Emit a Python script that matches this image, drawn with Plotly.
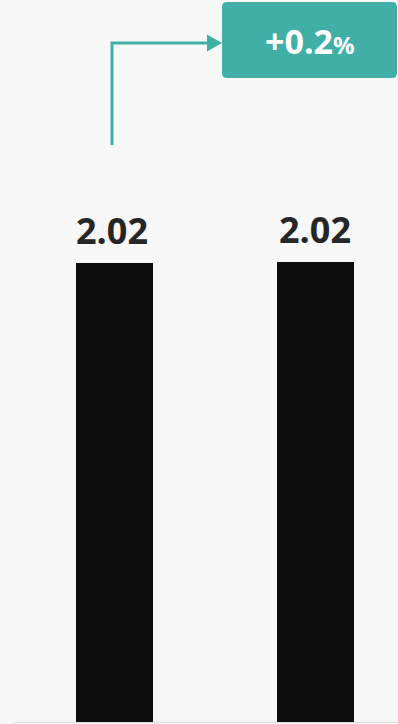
import plotly.graph_objects as go

# Two periods compared, with the relative change called out in a badge
categories = ["A", "B"]
values = [2.020, 2.024]

BG = "#f7f7f7"
BAR = "#0d0d0d"
TEAL = "#41afa6"
LABEL = "#262626"
FONT = "Open Sans, Noto Sans, sans-serif"

W, H = 398, 724
ML, MR, MT, MB = 13, 0, 0, 2
PW, PH = W - ML - MR, H - MT - MB


def px(xp):
    return (xp - ML) / PW


def py(yp):
    return (H - MB - yp) / PH


fig = go.Figure()
fig.add_trace(go.Bar(
    x=[0, 1], y=values, width=0.383,
    marker=dict(color=BAR, line=dict(width=0)),
    hoverinfo="skip",
))

label_nudge = [-3, -1]
for i, v in enumerate(values):
    fig.add_annotation(
        x=i, y=v, xref="x", yref="y", text=f"<b>{v:.2f}</b>",
        showarrow=False, yanchor="bottom", yshift=6, xshift=label_nudge[i],
        font=dict(family=FONT, size=36, color=LABEL),
    )

# connector: up from the first bar, then right into the badge
line_x, line_y0, line_y1, tip_x = 112, 145, 43, 222
fig.add_shape(
    type="path", xref="paper", yref="paper",
    path=f"M {px(line_x)},{py(line_y0)} L {px(line_x)},{py(line_y1)} L {px(209)},{py(line_y1)}",
    line=dict(color=TEAL, width=3),
)
fig.add_shape(
    type="path", xref="paper", yref="paper",
    path=f"M {px(207)},{py(line_y1 - 8.5)} L {px(tip_x)},{py(line_y1)} L {px(207)},{py(line_y1 + 8.5)} Z",
    fillcolor=TEAL, line=dict(color=TEAL, width=0),
)

# rounded badge
x0, x1, y0, y1, r = 222, 397, 2, 78, 5
badge = (
    f"M {px(x0 + r)},{py(y0)} L {px(x1 - r)},{py(y0)} "
    f"Q {px(x1)},{py(y0)} {px(x1)},{py(y0 + r)} "
    f"L {px(x1)},{py(y1 - r)} Q {px(x1)},{py(y1)} {px(x1 - r)},{py(y1)} "
    f"L {px(x0 + r)},{py(y1)} Q {px(x0)},{py(y1)} {px(x0)},{py(y1 - r)} "
    f"L {px(x0)},{py(y0 + r)} Q {px(x0)},{py(y0)} {px(x0 + r)},{py(y0)} Z"
)
fig.add_shape(type="path", xref="paper", yref="paper", path=badge,
              fillcolor=TEAL, line=dict(width=0))

change = (values[1] / values[0] - 1) * 100
fig.add_annotation(
    x=px((x0 + x1) / 2), y=py((y0 + y1) / 2), xref="paper", yref="paper",
    text=(f"<b>{'+' if change >= 0 else '−'}{abs(change):.1f}"
          f"<span style='font-size:24px'>%</span></b>"),
    showarrow=False, xanchor="center", yanchor="middle", yshift=-1,
    font=dict(family=FONT, size=34, color="white"),
)

fig.update_layout(
    width=W, height=H,
    margin=dict(l=ML, r=MR, t=MT, b=MB),
    paper_bgcolor=BG, plot_bgcolor=BG,
    showlegend=False, bargap=0,
    xaxis=dict(range=[-0.505, 1.41], showgrid=False, zeroline=False,
               showticklabels=False, ticks="", showline=True,
               linecolor="#dcdcdc", linewidth=1, fixedrange=True),
    yaxis=dict(range=[0, 3.177], showgrid=False, zeroline=False,
               showticklabels=False, ticks="", showline=False, fixedrange=True),
)

fig.write_html("out.html", config={"displayModeBar": False})
